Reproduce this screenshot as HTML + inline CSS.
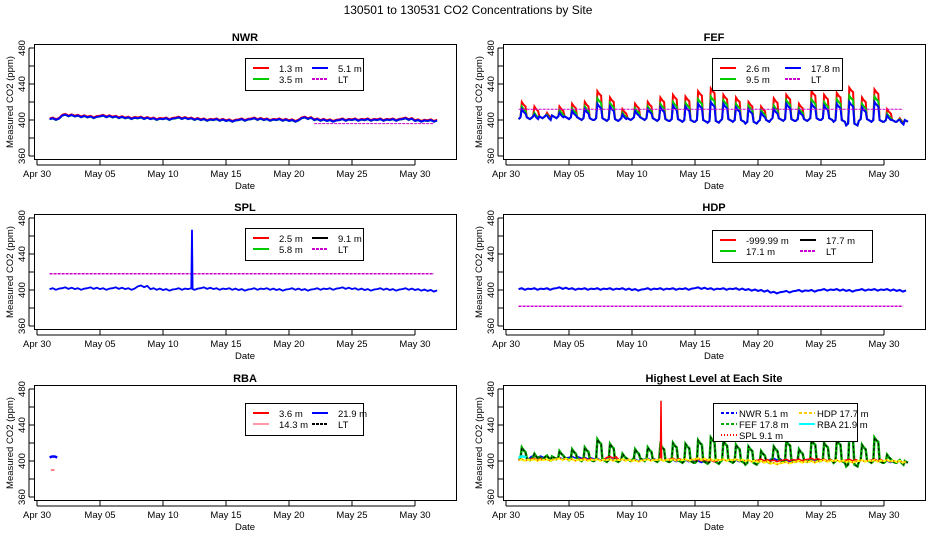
<!DOCTYPE html>
<html><head><meta charset="utf-8"><style>
body{margin:0;background:#fff}
svg{display:block;font-family:"Liberation Sans",sans-serif}
</style></head><body>
<svg id="c" width="936" height="540" xmlns="http://www.w3.org/2000/svg">
<text x="468" y="14" text-anchor="middle" font-size="12">130501  to  130531 CO2 Concentrations by Site</text>
</svg>
<script>
const xTicks=["Apr 30","May 05","May 10","May 15","May 20","May 25","May 30"];
const yTicks=[360,380,400,420,440,460,480];
const nwrVals=[401,405,404,403,404,403,402,402,401,401,402,401,400,400,399,400,401,400,400,399,402,400,399,400,400,400,400,400,401,399,399];
const fefBase=[401,402,403,402,401,400,400,399,400,401,400,399,399,398,398,397,399,398,396,398,400,399,399,400,400,398,394,399,398,398,398];
const fefBlue=[412,406,405,408,410,412,418,415,406,410,412,414,416,415,418,420,418,414,412,408,412,418,410,418,416,418,420,414,420,405,400];
const fefGreen=[415,408,406,411,413,415,424,419,408,413,415,418,420,419,423,426,422,418,416,411,416,422,413,423,420,423,427,418,426,407,401];
const fefRed=[420,415,408,415,418,420,432,425,412,418,420,425,428,426,432,435,428,425,420,415,424,428,418,432,428,430,436,425,434,412,402];
const splVals=[401,402,401,402,401,402,401,404,401,400,401,401,402,401,401,400,401,401,400,401,400,401,401,402,401,400,401,400,401,400,399];
const hdpVals=[401,401,401,402,401,401,401,401,401,400,401,401,401,401,402,401,401,401,400,399,397,398,399,399,400,400,399,400,400,400,399];
const nwrLT=396, fefLT=412, splLT=418, hdpLT=382;
const splSpikeDay=12.3, splSpikeVal=467;
const rbaBlue=[404,405,405,404], rbaRed=[390,390];
const svg=document.getElementById('c');
const NS='http://www.w3.org/2000/svg';
function el(tag,attrs,parent){const e=document.createElementNS(NS,tag);for(const k in attrs)e.setAttribute(k,attrs[k]);(parent||svg).appendChild(e);return e;}
function panel(ox,oy,title,name){
  const g=el('g',{});
  
  
  const X=d=>ox+37+d*12.6, Y=v=>oy+120-(v-400)*0.9;
  const t=el('text',{x:ox+245,y:oy+41,'text-anchor':'middle','font-size':'11','font-weight':'bold'},g);t.textContent=title;
  
  
  const b=el('rect',{x:ox+34.5,y:oy+44.5,width:422,height:115,fill:'none',stroke:'#000'},g);
  
  
  xTicks.forEach((s,i)=>{const x=X(i*5);el('line',{x1:x,x2:x,y1:oy+160,y2:oy+165,stroke:'#000'},g);
    const l=el('text',{x:x,y:oy+177,'text-anchor':'middle','font-size':'9.5'},g);l.textContent=s;
    
    });
  el('line',{x1:X(0),x2:X(30),y1:oy+165,y2:oy+165,stroke:'#000'},g);
  yTicks.forEach(v=>{const y=Y(v);el('line',{x1:ox+29,x2:ox+34,y1:y,y2:y,stroke:'#000'},g);
    if(v%40===0){const l=el('text',{x:ox+25,y:y,'text-anchor':'middle','font-size':'9.5',transform:`rotate(-90 ${ox+25} ${y})`},g);l.textContent=v;
    
    }});
  el('line',{x1:ox+29,x2:ox+29,y1:Y(360),y2:Y(480),stroke:'#000'},g);
  const dl=el('text',{x:ox+245,y:oy+189,'text-anchor':'middle','font-size':'9.5'},g);dl.textContent='Date';
  
  
  const yl=el('text',{x:ox+13,y:oy+102,'text-anchor':'middle','font-size':'9.5',transform:`rotate(-90 ${ox+13} ${oy+102})`},g);yl.textContent='Measured CO2 (ppm)';
  
  
  return {g,X,Y};
}
function line(p,pts,color,w,dash,name){
  const e=el('polyline',{points:pts.map(q=>p.X(q[0]).toFixed(1)+','+p.Y(q[1]).toFixed(1)).join(' '),fill:'none',stroke:color,'stroke-width':w},p.g);
  if(dash)e.setAttribute('stroke-dasharray',dash);
  
  
}
function daily(arr){const pts=[];arr.forEach((v,i)=>{pts.push([i+1,v]);pts.push([i+1.25,v+1]);pts.push([i+1.5,v-0.8]);pts.push([i+1.75,v+0.6]);});return pts;}
function diurnal(base,peak){const pts=[];base.forEach((b,i)=>{const d=i+1;pts.push([d,b]);pts.push([d+0.15,b+2]);pts.push([d+0.25,peak[i]]);pts.push([d+0.4,peak[i]-3]);pts.push([d+0.55,peak[i]-5]);pts.push([d+0.65,b+2]);pts.push([d+0.9,b]);});return pts;}
function legend(p,x,y,w,items,colOff){
  const lg=el('g',{},p.g);
  
  
  const five=items.length>4;
  el('rect',{x:x+0.5,y:y+0.5,width:w,height:five?38:32,fill:'#fff',stroke:'#000'},lg);
  items.forEach((it,i)=>{const n=five?3:2;const col=i<n?0:1;const row=col?i-n:i;
    const lx=x+8+col*colOff,ly=y+10+row*11;
    const ln=el('line',{x1:lx,x2:lx+16,y1:ly,y2:ly,stroke:it[1],'stroke-width':2},lg);
    if(it[2])ln.setAttribute('stroke-dasharray',it[2]);
    const t=el('text',{x:lx+(five?18:26),y:ly+4,'font-size':'9.5',"xml:space":"preserve"},lg);t.textContent=it[0];
    
    });
}
// NWR
let p=panel(0,0,'NWR','nwr');
line(p,daily(nwrVals.map(v=>v+1)),'#f00',1.5,null,'nwr-1.3m');
line(p,daily(nwrVals.map(v=>v-0.5)),'#0c0',1.5,null,'nwr-3.5m');
line(p,daily(nwrVals),'#00f',2,null,'nwr-5.1m');
line(p,[[22,nwrLT],[31.5,nwrLT]],'#c0c',1,'3,1','nwr-lt');
legend(p,245,58,118,[['1.3 m','#f00'],['3.5 m','#0c0'],['5.1 m','#00f'],['LT','#c0c','3,1']],59);
// FEF
p=panel(469,0,'FEF','fef');
line(p,diurnal(fefBase,fefRed),'#f00',2,null,'fef-2.6m');
line(p,diurnal(fefBase,fefGreen),'#0c0',2,null,'fef-9.5m');
line(p,diurnal(fefBase,fefBlue),'#00f',2,null,'fef-17.8m');
line(p,[[1,fefLT],[31.5,fefLT]],'#c0c',1,'3,1','fef-lt');
legend(p,712,58,130,[['2.6 m','#f00'],['9.5 m','#0c0'],['17.8 m','#00f'],['LT','#c0c','3,1']],65);
// SPL
p=panel(0,170,'SPL','spl');
line(p,[[1,splLT],[31.5,splLT]],'#c0c',1.5,'3,1','spl-lt');
line(p,daily(splVals),'#0c0',1.5,null,'spl-5.8m');
const splPts=daily(splVals);splPts.splice(46,0,[splSpikeDay,splSpikeVal],[splSpikeDay+0.05,401]);
line(p,splPts,'#00f',1.8,null,'spl-9.1m');
legend(p,245,228,118,[['2.5 m','#f00'],['5.8 m','#0c0'],['9.1 m','#000'],['LT','#c0c','3,1']],59);
// HDP
p=panel(469,170,'HDP','hdp');
line(p,[[1,hdpLT],[31.5,hdpLT]],'#c0c',1.5,'3,1','hdp-lt');
line(p,daily(hdpVals),'#0c0',1.5,null,'hdp-17.1m');
line(p,daily(hdpVals),'#00f',2,null,'hdp-17.7m');
legend(p,712,230,160,[['-999.99 m','#f00'],['17.1 m','#0c0'],['17.7 m','#000'],['LT','#c0c','3,1']],80);
// RBA
p=panel(0,341,'RBA','rba');
line(p,rbaBlue.map((v,i)=>[1+i*0.2,v]),'#00f',2.5,null,'rba-21.9m');
line(p,rbaRed.map((v,i)=>[1.1+i*0.3,v]),'#f00',1,null,'rba-3.6m');
legend(p,245,403,118,[['3.6 m','#f00'],['14.3 m','#f9a'],['21.9 m','#00f'],['LT','#000','3,1']],59);
// Highest
p=panel(469,341,'Highest Level at Each Site','highest');
line(p,daily(nwrVals),'#00f',1.5,null,'highest-nwr');
line(p,diurnal(fefBase,fefGreen),'#0a0',2.5,null,'highest-fef');
line(p,diurnal(fefBase,fefGreen),'#000',1,'3,2','highest-fef-dash');
line(p,splPts,'#f00',1.5,null,'highest-spl');
line(p,daily(hdpVals),'#ff0',2,null,'highest-hdp');
line(p,daily(hdpVals),'#f00',1,'1,3','highest-hdp-dots');
line(p,rbaBlue.map((v,i)=>[1+i*0.2,v]),'#0ff',2.5,null,'highest-rba');
legend(p,713,403,144,[['NWR  5.1 m','#00f','3,2'],['FEF  17.8 m','#0a0','3,2'],['SPL  9.1 m','#f00','1,2'],['HDP  17.7 m','#fc0','3,2'],['RBA  21.9 m','#0ff']],78);
</script>
</body></html>
